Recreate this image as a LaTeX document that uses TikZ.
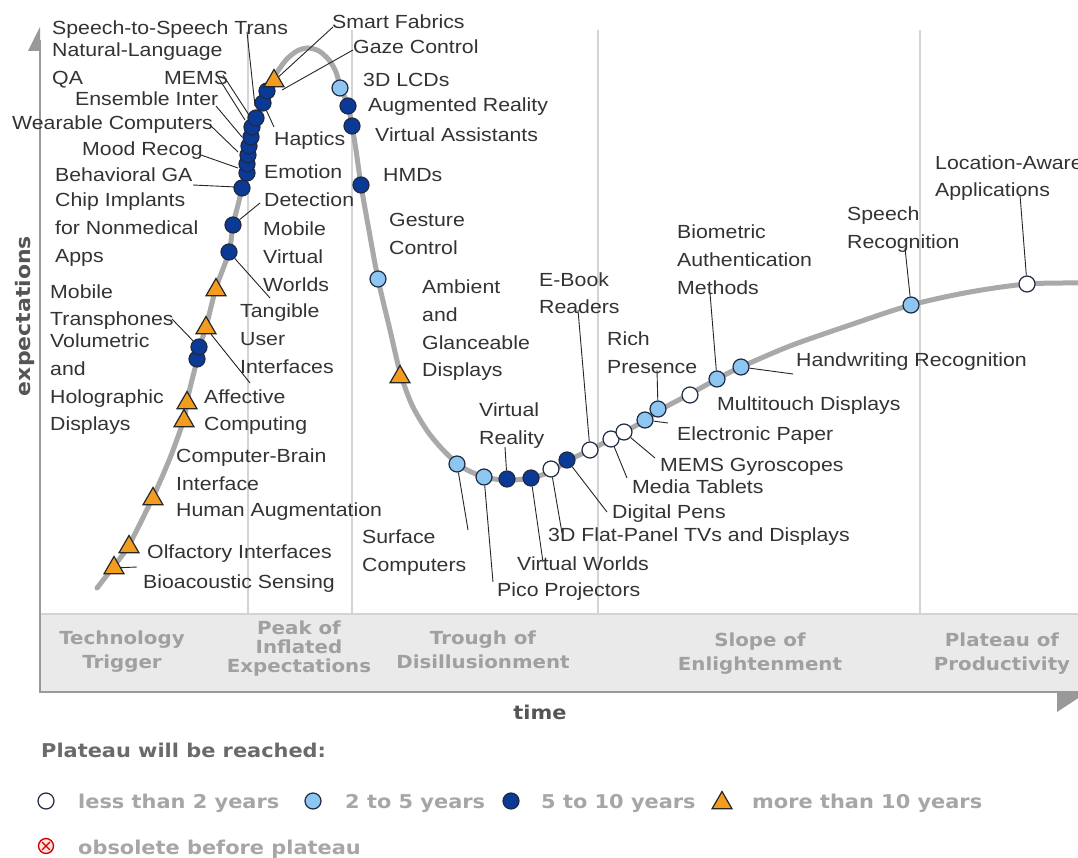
\documentclass[tikz,border=0pt]{standalone}
\usepackage{fontspec}
\usetikzlibrary{shapes.geometric}
\newfontfamily\labfont[FakeStretch=1.12]{Liberation Sans}
\newfontfamily\boldfont[FakeStretch=1.1]{DejaVu Sans Bold}
\definecolor{labc}{HTML}{333333}
\definecolor{ltb}{HTML}{8EC6F2}
\definecolor{dkb}{HTML}{0B3A96}
\definecolor{org}{HTML}{F39C1E}
\definecolor{outl}{HTML}{1E2A44}
\definecolor{crv}{HTML}{A9A9A9}
\definecolor{axc}{HTML}{999999}
\definecolor{divc}{HTML}{D4D4D4}
\definecolor{bandc}{HTML}{EAEAEA}
\definecolor{phase}{HTML}{A0A0A0}
\definecolor{legc}{HTML}{A6A6A6}
\definecolor{headc}{HTML}{6A6A6A}
\definecolor{axtext}{HTML}{555555}
\pgfdeclarelayer{bg}
\pgfdeclarelayer{back}
\pgfsetlayers{bg,back,main}
\tikzset{
  lbl/.style={font=\labfont\fontsize{19}{27.6}\selectfont, text=labc, inner sep=0pt, anchor=north west, align=left},
  ldr/.style={draw=black!85, line width=0.9pt},
  mk/.style={circle, draw=outl, line width=1.2pt, minimum size=16pt, inner sep=0pt},
  wh/.style={mk, fill=white},
  lt/.style={mk, fill=ltb},
  dk/.style={mk, fill=dkb},
  tri/.style={regular polygon, regular polygon sides=3, draw=black!85, line width=1.2pt, fill=org, minimum size=23pt, inner sep=0pt},
  phasel/.style={font=\boldfont\fontsize{18}{23.5}\selectfont, text=phase, align=center, inner sep=0pt, anchor=north},
  legt/.style={font=\boldfont\fontsize{19}{23}\selectfont, text=legc, inner sep=0pt, anchor=base west},
}
\begin{document}
\begin{tikzpicture}[x=1pt,y=-1pt]
\useasboundingbox (0,0) rectangle (1078,858);

% ---------- frame, band, dividers ----------
\begin{pgfonlayer}{bg}
\fill[white] (0,0) rectangle (1078,858);
\fill[bandc] (40,614) rectangle (1078,691);
\draw[divc, line width=1.2pt] (40,614) -- (1078,614);
\foreach \xx in {248,352,598,920} \draw[divc, line width=1.1pt] (\xx,30) -- (\xx,614);
\draw[axc, line width=2pt] (40,40) -- (40,692) -- (1078,692);
\fill[axc] (40,27) -- (40,51) -- (28,51) -- cycle;
\fill[axc] (1057,693) -- (1057,712) -- (1086,693) -- cycle;
\end{pgfonlayer}

\node[phasel] (ph1) at (122,631) {Technology\\Trigger};
\node[phasel, font=\boldfont\fontsize{18}{19}\selectfont] (ph2) at (299,621) {Peak of\\Inflated\\Expectations};
\node[phasel] (ph3) at (483,631) {Trough of\\Disillusionment};
\node[phasel] (ph4) at (760,633) {Slope of\\Enlightenment};
\node[phasel] (ph5) at (1002,633) {Plateau of\\Productivity};

\node[font=\boldfont\fontsize{19}{23}\selectfont, text=axtext, inner sep=0pt] (tlab) at (540,712) {time};
\node[font=\boldfont\fontsize{20}{23}\selectfont, text=axtext, inner sep=0pt, rotate=90] (elab) at (25,316) {expectations};

% ---------- markers ----------
\node[tri] (t1) at (114,568) {};
\node[tri] (t2) at (129,547) {};
\node[tri] (t3) at (153,499) {};
\node[tri] (t4) at (184,421) {};
\node[tri] (t5) at (187,403) {};
\node[dk] (d1) at (197,359) {};
\node[dk] (d2) at (199,347) {};
\node[tri] (t6) at (206,328) {};
\node[tri] (t7) at (216,290) {};
\node[dk] (d3) at (229,252) {};
\node[dk] (d4) at (233,225) {};
\node[dk] (d5) at (242,188) {};
\node[dk] (d6) at (247,173) {};
\node[dk] (d7) at (247,164) {};
\node[dk] (d8) at (248,155) {};
\node[dk] (d9) at (249,146) {};
\node[dk] (d10) at (251,137) {};
\node[dk] (d11) at (252,127) {};
\node[dk] (d12) at (256,118) {};
\node[dk] (d13) at (263,103) {};
\node[dk] (d14) at (267,91) {};
\node[tri] (t8) at (274,81) {};
\node[lt] (l1) at (340,88) {};
\node[dk] (d15) at (348,106) {};
\node[dk] (d16) at (352,126) {};
\node[dk] (d17) at (361,185) {};
\node[lt] (l2) at (378,279) {};
\node[tri] (t9) at (400,377) {};
\node[lt] (l3) at (457,464) {};
\node[lt] (l4) at (484,477) {};
\node[dk] (d18) at (507,479) {};
\node[dk] (d19) at (531,478) {};
\node[wh] (w1) at (551,469) {};
\node[dk] (d20) at (567,460) {};
\node[wh] (w2) at (590,450) {};
\node[wh] (w3) at (611,439) {};
\node[wh] (w4) at (624,432) {};
\node[lt] (l5) at (645,420) {};
\node[lt] (l6) at (658,409) {};
\node[wh] (w5) at (690,395) {};
\node[lt] (l7) at (717,379) {};
\node[lt] (l8) at (741,367) {};
\node[lt] (l9) at (911,305) {};
\node[wh] (w6) at (1027,284) {};

% ---------- curve and leaders (behind markers) ----------
\begin{pgfonlayer}{back}
\draw[crv, line width=5pt, line cap=round] plot[smooth, tension=0.5] coordinates {
(97,588) (114,566) (129,545) (153,497) (170,458) (184,419) (187,401) (192,380) (197,360) (199,348) (206,327) (216,288) (229,252) (233,225) (238,205) (242,188) (247,164) (251,137) (256,118) (263,103) (268,90) (276,74) (286,60) (297,51) (308,48) (319,51) (329,60) (336,72) (340,86) (348,106) (352,126) (356,150) (361,185) (368,225) (378,279) (390,330) (400,372) (412,405) (428,432) (445,452) (462,467) (484,477) (507,480) (531,478) (552,471) (567,461) (590,450) (611,439) (624,432) (646,420) (660,410) (690,394) (717,379) (741,367) (790,346) (850,325) (911,305) (970,292) (1027,284) (1078,283)};

\coordinate (stsA) at (247,32);   \coordinate (stsB) at (255,106);
\coordinate (nlqA) at (218,77);   \coordinate (nlqB) at (245,120);
\coordinate (memA) at (223,75);   \coordinate (memB) at (249,115);
\coordinate (ensA) at (216,106);  \coordinate (ensB) at (242,137);
\coordinate (weaA) at (210,125);  \coordinate (weaB) at (238,152);
\coordinate (mooA) at (201,155);  \coordinate (mooB) at (238,168);
\coordinate (bgaA) at (193,185);  \coordinate (bgaB) at (236,187);
\coordinate (hapE) at (274,127);
\coordinate (emoE) at (260,203);
\coordinate (tanE) at (270,298);
\coordinate (sfE) at (333,27);
\coordinate (gazA) at (353,50);   \coordinate (gazB) at (282,90);
\coordinate (traE) at (172,319);
\coordinate (affE) at (250,383);
\coordinate (bioE) at (137,567);
\coordinate (surE) at (468,530);
\coordinate (picE) at (493,582);
\coordinate (vrE) at (505,447);
\coordinate (vwE) at (543,562);
\coordinate (flaE) at (562,533);
\coordinate (dpE) at (607,512);
\coordinate (ebE) at (578,310);
\coordinate (mtE) at (627,478);
\coordinate (mgE) at (655,458);
\coordinate (epE) at (668,423);
\coordinate (riE) at (657,370);
\coordinate (baE) at (710,293);
\coordinate (hwE) at (793,374);
\coordinate (srE) at (905,248);
\coordinate (laE) at (1020,195);

\draw[ldr] (stsA) -- (stsB);
\draw[ldr] (nlqA) -- (nlqB);
\draw[ldr] (memA) -- (memB);
\draw[ldr] (ensA) -- (ensB);
\draw[ldr] (weaA) -- (weaB);
\draw[ldr] (mooA) -- (mooB);
\draw[ldr] (bgaA) -- (bgaB);
\draw[ldr] (d13) -- (hapE);
\draw[ldr] (emoE) -- (d4);
\draw[ldr] (d3) -- (tanE);
\draw[ldr] (sfE) -- (t8);
\draw[ldr] (gazA) -- (gazB);
\draw[ldr] (traE) -- (d2);
\draw[ldr] (t6) -- (affE);
\draw[ldr] (t1) -- (bioE);
\draw[ldr] (l3) -- (surE);
\draw[ldr] (l4) -- (picE);
\draw[ldr] (vrE) -- (d18);
\draw[ldr] (d19) -- (vwE);
\draw[ldr] (w1) -- (flaE);
\draw[ldr] (d20) -- (dpE);
\draw[ldr] (ebE) -- (w2);
\draw[ldr] (w3) -- (mtE);
\draw[ldr] (w4) -- (mgE);
\draw[ldr] (l5) -- (epE);
\draw[ldr] (riE) -- (l6);
\draw[ldr] (baE) -- (l7);
\draw[ldr] (l8) -- (hwE);
\draw[ldr] (srE) -- (l9);
\draw[ldr] (laE) -- (w6);
\end{pgfonlayer}

% ---------- labels ----------
\node[lbl] (n1) at (52,21) {Speech-to-Speech Trans};
\node[lbl] (n2) at (52,43) {Natural-Language};
\node[lbl] (n3) at (52,71) {QA};
\node[lbl] (n4) at (164,71) {MEMS};
\node[lbl] (n5) at (75,92) {Ensemble Inter};
\node[lbl] (n6) at (12,116) {Wearable Computers};
\node[lbl] (n7) at (82,142) {Mood Recog};
\node[lbl] (n8) at (55,168) {Behavioral GA};
\node[lbl] (n9) at (55,193) {Chip Implants\\for Nonmedical\\Apps};
\node[lbl, font=\labfont\fontsize{19}{27}\selectfont] (n10) at (50,285) {Mobile\\Transphones};
\node[lbl] (n11) at (50,334) {Volumetric\\and\\Holographic\\Displays};
\node[lbl, font=\labfont\fontsize{19}{28}\selectfont] (n12) at (176,449) {Computer-Brain\\Interface};
\node[lbl] (n13) at (176,503) {Human Augmentation};
\node[lbl] (n14) at (147,545) {Olfactory Interfaces};
\node[lbl] (n15) at (143,575) {Bioacoustic Sensing};
\node[lbl, font=\labfont\fontsize{19}{27}\selectfont] (n16) at (204,390) {Affective\\Computing};
\node[lbl, font=\labfont\fontsize{19}{28}\selectfont] (n17) at (240,304) {Tangible\\User\\Interfaces};
\node[lbl] (n18) at (263,222) {Mobile\\Virtual\\Worlds};
\node[lbl, font=\labfont\fontsize{19}{28}\selectfont] (n19) at (264,165) {Emotion\\Detection};
\node[lbl] (n20) at (274,132) {Haptics};

\node[lbl] (n21) at (332,15) {Smart Fabrics};
\node[lbl] (n22) at (353,40) {Gaze Control};
\node[lbl] (n23) at (363,73) {3D LCDs};
\node[lbl] (n24) at (368,98) {Augmented Reality};
\node[lbl] (n25) at (375,128) {Virtual Assistants};
\node[lbl] (n26) at (383,168) {HMDs};
\node[lbl] (n27) at (389,213) {Gesture\\Control};
\node[lbl] (n28) at (422,280) {Ambient\\and\\Glanceable\\Displays};
\node[lbl, font=\labfont\fontsize{19}{27}\selectfont] (n29) at (539,273) {E-Book\\Readers};
\node[lbl, font=\labfont\fontsize{19}{28}\selectfont] (n30) at (607,332) {Rich\\Presence};
\node[lbl, font=\labfont\fontsize{19}{28}\selectfont] (n31) at (479,403) {Virtual\\Reality};
\node[lbl, font=\labfont\fontsize{19}{28}\selectfont] (n32) at (362,530) {Surface\\Computers};
\node[lbl] (n33) at (497,583) {Pico Projectors};
\node[lbl] (n34) at (517,557) {Virtual Worlds};
\node[lbl] (n35) at (548,528) {3D Flat-Panel TVs and Displays};
\node[lbl] (n36) at (612,505) {Digital Pens};
\node[lbl] (n37) at (632,480) {Media Tablets};
\node[lbl] (n38) at (660,458) {MEMS Gyroscopes};
\node[lbl] (n39) at (677,427) {Electronic Paper};
\node[lbl] (n40) at (717,397) {Multitouch Displays};
\node[lbl] (n41) at (796,353) {Handwriting Recognition};
\node[lbl] (n42) at (677,225) {Biometric\\Authentication\\Methods};
\node[lbl] (n43) at (847,207) {Speech\\Recognition};
\node[lbl, font=\labfont\fontsize{19}{27}\selectfont] (n44) at (935,156) {Location-Aware\\Applications};

% ---------- legend ----------
\node[legt, text=headc] (lg0) at (41,757) {Plateau will be reached:};
\node[wh] (lgw) at (46,801) {};
\node[legt] (lg1) at (78,808) {less than 2 years};
\node[lt] (lgl) at (313,801) {};
\node[legt] (lg2) at (345,808) {2 to 5 years};
\node[dk] (lgd) at (511,801) {};
\node[legt] (lg3) at (541,808) {5 to 10 years};
\node[tri] (lgt) at (722,803) {};
\node[legt] (lg4) at (752,808) {more than 10 years};
\node[circle, draw=red!80!black, fill=red!12, line width=1.3pt, minimum size=15pt, inner sep=0pt] (lgx) at (46,846) {};
\draw[red!80!black, line width=1.3pt, shorten >=2.5pt, shorten <=2.5pt] (lgx.45) -- (lgx.225);
\draw[red!80!black, line width=1.3pt, shorten >=2.5pt, shorten <=2.5pt] (lgx.135) -- (lgx.315);
\node[legt] (lg5) at (78,854) {obsolete before plateau};
\end{tikzpicture}
\end{document}
